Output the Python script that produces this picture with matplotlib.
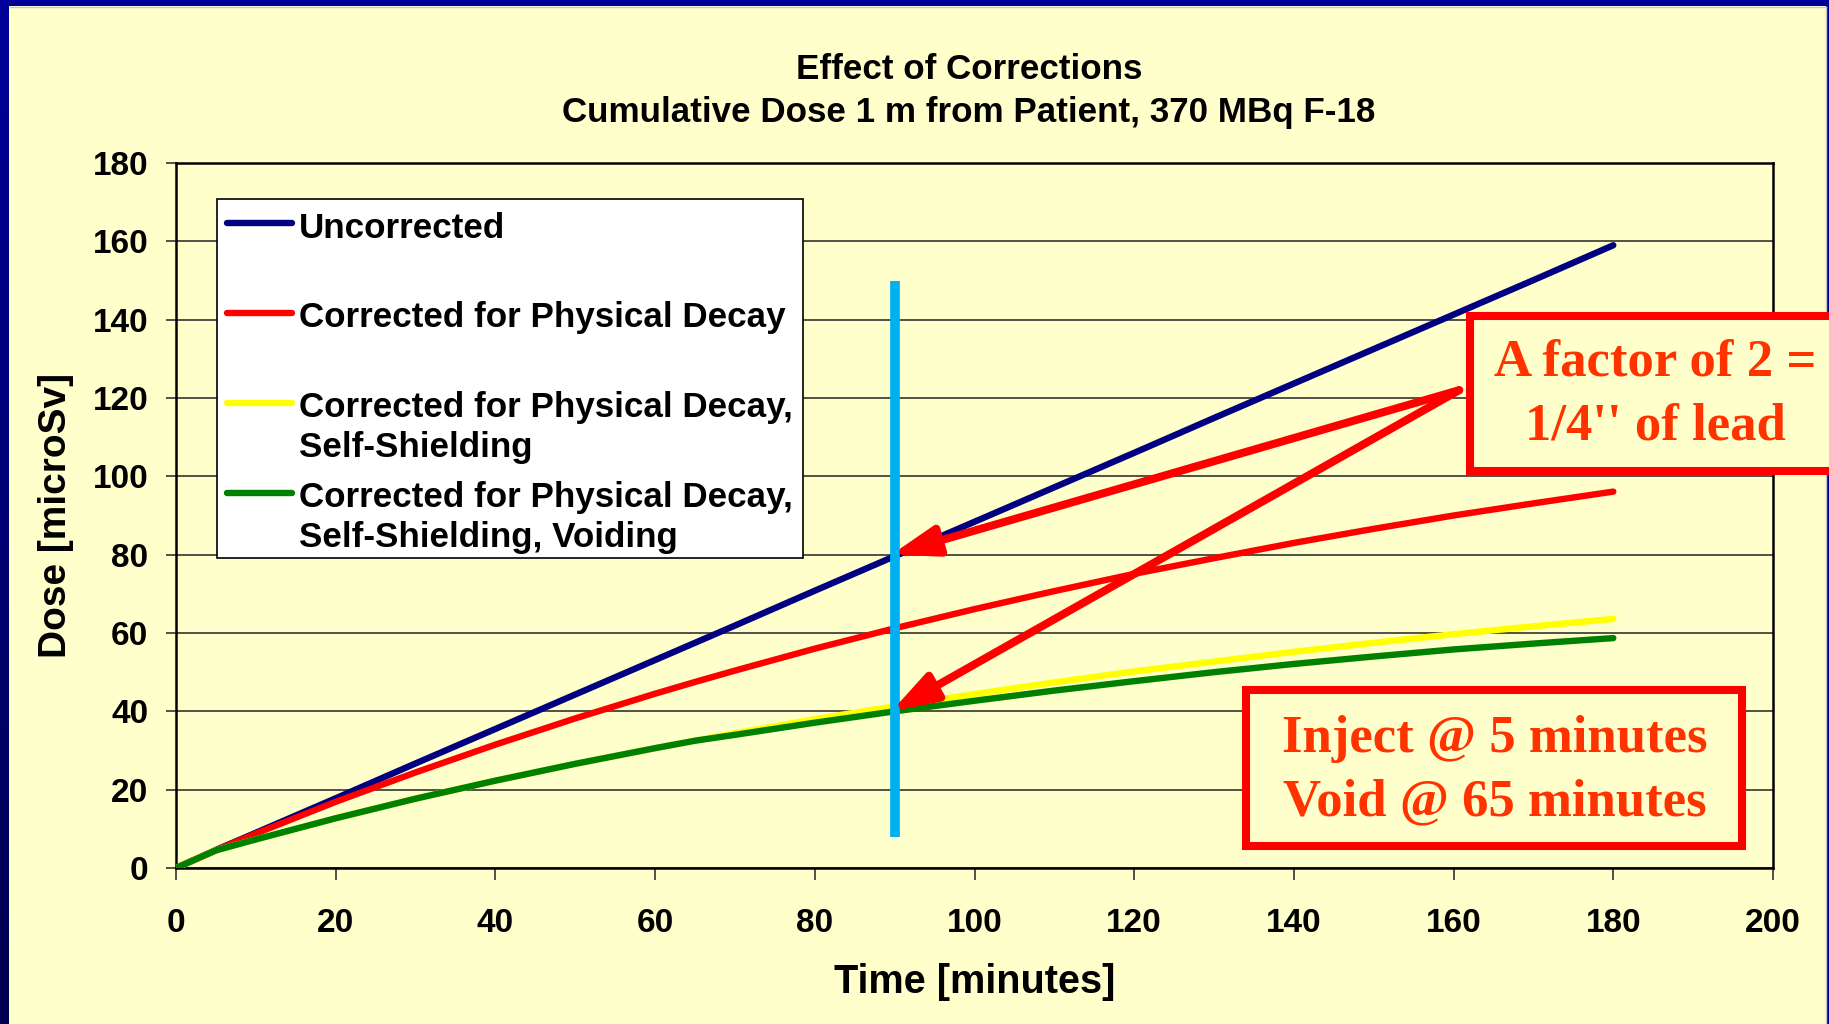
import numpy as np
import matplotlib
matplotlib.use('Agg')
import matplotlib.pyplot as plt
import matplotlib.patches as patches
from matplotlib.lines import Line2D
from matplotlib.colors import LinearSegmentedColormap

# values
time_min = [0, 5, 10, 20, 30, 40, 50, 60, 65, 70, 80, 90, 100, 110, 120, 130, 140, 150, 160, 170, 180]
dose_uncorrected = [0, 4.6, 9.0, 17.8, 26.7, 35.5, 44.3, 53.1, 57.5, 61.9, 70.8, 79.6, 88.4,
                    97.2, 106.0, 114.9, 123.7, 132.5, 141.3, 150.1, 159.0]
dose_decay = [0, 4.5, 8.8, 16.9, 24.4, 31.5, 38.2, 44.5, 47.5, 50.4, 56.0, 61.2, 66.1,
              70.7, 75.1, 79.1, 83.0, 86.6, 90.0, 93.1, 96.1]
dose_shielding = [0, 4.5, 7.3, 12.7, 17.7, 22.3, 26.6, 30.6, 32.5, 34.4, 38.0, 41.3, 44.4,
                  47.4, 50.2, 52.7, 55.2, 57.5, 59.7, 61.7, 63.6]
dose_voiding = [0, 4.5, 7.3, 12.7, 17.7, 22.3, 26.6, 30.6, 32.5, 34.0, 37.1, 40.0, 42.7,
                45.3, 47.7, 50.0, 52.1, 54.0, 55.8, 57.3, 58.7]

series = [dose_uncorrected, dose_decay, dose_shielding, dose_voiding]
colors = ['#000080', '#FF0000', '#FFFF00', '#008000']
labels = [['Uncorrected'],
          ['Corrected for Physical Decay'],
          ['Corrected for Physical Decay,', 'Self-Shielding'],
          ['Corrected for Physical Decay,', 'Self-Shielding, Voiding']]

x_ticks = list(range(0, 201, 20))
y_ticks = list(range(0, 181, 20))

marker_time = 90
marker_span = [8, 150]
arrow_tail = (160.7, 122)
arrow_heads = [(89.6, 80), (89.6, 40)]

note_top = ['A factor of 2 =', "1/4'' of lead"]
note_bottom = ['Inject @ 5 minutes', 'Void @ 65 minutes']

BG = '#FFFFCC'
NOTE = '#FF3300'

plt.rcParams['font.family'] = ['Liberation Sans', 'DejaVu Sans']
plt.rcParams['font.weight'] = 'bold'

W, H = 1829, 1024
fig = plt.figure(figsize=(W / 100, H / 100), dpi=100, facecolor=BG)

def fx(px):
    return px / W

def fy(py):
    return 1 - py / H

# slide frame
bar = fig.add_axes([0, 0, fx(9), 1])
grad = np.linspace(0, 1, 256).reshape(-1, 1)
bar.imshow(grad, aspect='auto', cmap=LinearSegmentedColormap.from_list('b', ['#000099', '#000050']))
bar.set_axis_off()
fig.add_artist(patches.Rectangle((0, fy(6)), 1, 6 / H, transform=fig.transFigure,
                                 color='#000099', lw=0, zorder=1))
fig.add_artist(patches.Rectangle((fx(1826), 0), 3 / W, 1, transform=fig.transFigure,
                                 color='#000099', lw=0, zorder=1))
fig.add_artist(Line2D([fx(9.5), fx(1825.5)], [fy(6.5), fy(6.5)], transform=fig.transFigure,
                      color='#C8C8C8', lw=1, zorder=1))
fig.add_artist(Line2D([fx(1825.5), fx(1825.5)], [0, fy(6.5)], transform=fig.transFigure,
                      color='#C8C8C8', lw=1, zorder=1))

ax = fig.add_axes([fx(176), fy(868), (1773 - 176) / W, (868 - 163) / H])
ax.set_facecolor(BG)

for vals, col in zip(series, colors):
    ax.plot(time_min, vals, color=col, lw=4.6, solid_capstyle='round', zorder=3)

ax.plot([marker_time, marker_time], marker_span, color='#00B0F0', lw=7,
        solid_capstyle='butt', zorder=4)

for head in arrow_heads:
    ax.annotate('', xy=head, xytext=arrow_tail,
                arrowprops=dict(arrowstyle='-|>,head_length=1.35,head_width=0.45',
                                color='#FF0000', lw=5.8, shrinkA=0, shrinkB=0,
                                mutation_scale=20), zorder=5)

ax.set_xlim(0, 200)
ax.set_ylim(0, 180)
ax.set_xticks(x_ticks)
ax.set_yticks(y_ticks)
ax.yaxis.grid(True, color='#333333', lw=1.2)
ax.set_axisbelow(True)
for s in ax.spines.values():
    s.set_linewidth(1.8)
    s.set_color('black')
ax.tick_params(axis='y', direction='out', length=7, width=1.2, pad=13, labelsize=24, color='#333333')
ax.tick_params(axis='x', direction='out', length=8.6, width=1.2, pad=20, labelsize=24, color='#333333')

ax.set_xlabel('Time [minutes]', fontsize=28.5, fontweight='bold', va='center')
ax.xaxis.set_label_coords(0.5, (868 - 982) / 705)
ax.set_ylabel('Dose [microSv]', fontsize=28, fontweight='bold', va='center')
ax.yaxis.set_label_coords((56 - 176) / 1597, 0.5)

fig.text(fx(969), fy(79), 'Effect of Corrections', ha='center', va='baseline',
         fontsize=25.2, fontweight='bold')
fig.text(fx(969), fy(122), 'Cumulative Dose 1 m from Patient, 370 MBq F-18', ha='center',
         va='baseline', fontsize=25.2, fontweight='bold')

# legend box, handle level with the first line of each entry
fig.add_artist(patches.Rectangle((fx(216.7), fy(558.3)), (803 - 216.7) / W, (558.3 - 199.3) / H,
                                 transform=fig.transFigure, facecolor='white',
                                 edgecolor='black', lw=1.2, zorder=5))
handle_y = [223.3, 313.3, 402.7, 492.7]
text_base = [238.3, 326.7, 416.7, 506.7]
for col, hy, tb, lab in zip(colors, handle_y, text_base, labels):
    fig.add_artist(Line2D([fx(227), fx(291.7)], [fy(hy), fy(hy)], transform=fig.transFigure,
                          color=col, lw=4.6, solid_capstyle='round', zorder=6))
    for i, line in enumerate(lab):
        fig.text(fx(298.7), fy(tb + 40 * i), line, ha='left', va='baseline',
                 fontsize=25.2, fontweight='bold', zorder=6)

# note boxes
fig.add_artist(patches.Rectangle((fx(1470), fy(471)), (1900 - 1470) / W, (471 - 316) / H,
                                 transform=fig.transFigure, facecolor=BG,
                                 edgecolor='#FF0000', lw=5.8, zorder=5, clip_on=False))
fig.add_artist(patches.Rectangle((fx(1245.7), fy(846)), (1742 - 1245.7) / W, (846 - 690) / H,
                                 transform=fig.transFigure, facecolor=BG,
                                 edgecolor='#FF0000', lw=5.8, zorder=5))
for i, line in enumerate(note_top):
    fig.text(fx(1655), fy(376 + 64 * i), line, ha='center', va='baseline', color=NOTE,
             fontsize=38, fontweight='bold', family='Liberation Serif', zorder=6)
for i, line in enumerate(note_bottom):
    fig.text(fx(1495), fy(751.7 + 63.3 * i), line, ha='center', va='baseline', color=NOTE,
             fontsize=38, fontweight='bold', family='Liberation Serif', zorder=6)

fig.savefig('out.png', dpi=100, facecolor=BG)
